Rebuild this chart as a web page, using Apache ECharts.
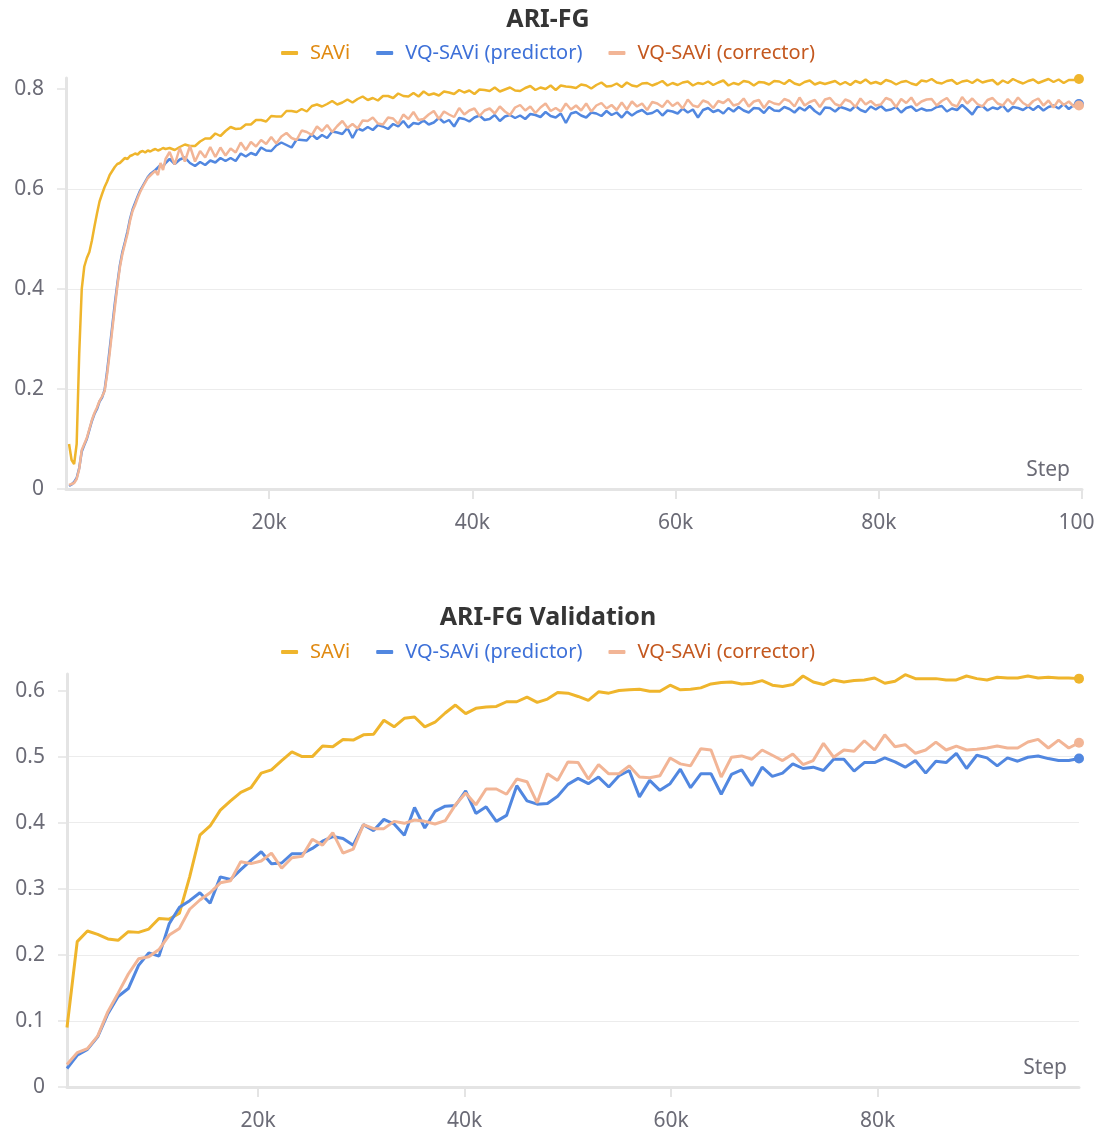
<!DOCTYPE html>
<html>
<head>
<meta charset="utf-8">
<title>ARI-FG</title>
<script src="https://cdn.jsdelivr.net/npm/echarts@6/dist/echarts.min.js"></script>
<style>
  html, body { margin: 0; padding: 0; background: #fff; }
  #chart { width: 1096px; height: 1135px; }
</style>
</head>
<body>
<div id="chart"></div>
<script>
// series names + colours
const seriesNames = ['SAVi', 'VQ-SAVi (predictor)', 'VQ-SAVi (corrector)']
const lineColors = ['#efb52c', '#5187e0', '#f2b596']
const textColors = ['#e08a12', '#3d70d8', '#c4581f']

// tick values
const trainXTicks = [20000, 40000, 60000, 80000, 100000]
const trainYTicks = [0, 0.2, 0.4, 0.6, 0.8]
const valXTicks = [20000, 40000, 60000, 80000]
const valYTicks = [0, 0.1, 0.2, 0.3, 0.4, 0.5, 0.6]

// ---- training curve (ARI-FG) ----
// logged every 250 steps from 300 up to ~10k, then every 500 steps from 10.2k
const trainEarlyStart = 300
const trainEarlyEvery = 250
const trainLateStart = 10200
const trainLateEvery = 500

const saviTrainEarly = [
  0.090, 0.058, 0.050, 0.090, 0.270, 0.400, 0.445, 0.462, 0.474, 0.497,
  0.525, 0.551, 0.575, 0.590, 0.604, 0.615, 0.628, 0.636, 0.644, 0.650,
  0.652, 0.657, 0.662, 0.660, 0.666, 0.668, 0.671, 0.669, 0.674, 0.676,
  0.673, 0.677, 0.675, 0.678, 0.680, 0.677, 0.679, 0.682, 0.680
]
const saviTrainLate = [
  0.682, 0.678, 0.684, 0.689, 0.686, 0.686, 0.695, 0.701, 0.701, 0.711,
  0.706, 0.716, 0.724, 0.720, 0.721, 0.729, 0.729, 0.738, 0.738, 0.735,
  0.746, 0.745, 0.745, 0.756, 0.756, 0.754, 0.760, 0.755, 0.766, 0.769,
  0.765, 0.770, 0.776, 0.769, 0.773, 0.779, 0.773, 0.780, 0.785, 0.778,
  0.782, 0.777, 0.786, 0.786, 0.782, 0.791, 0.786, 0.785, 0.792, 0.785,
  0.795, 0.788, 0.791, 0.787, 0.795, 0.793, 0.790, 0.798, 0.793, 0.797,
  0.790, 0.799, 0.798, 0.796, 0.803, 0.795, 0.799, 0.803, 0.797, 0.796,
  0.802, 0.806, 0.798, 0.803, 0.800, 0.807, 0.798, 0.807, 0.805, 0.804,
  0.802, 0.809, 0.807, 0.801, 0.808, 0.813, 0.805, 0.806, 0.811, 0.804,
  0.813, 0.807, 0.805, 0.811, 0.812, 0.807, 0.811, 0.816, 0.807, 0.812,
  0.808, 0.813, 0.815, 0.807, 0.812, 0.810, 0.815, 0.808, 0.813, 0.817,
  0.807, 0.812, 0.809, 0.816, 0.814, 0.807, 0.814, 0.813, 0.809, 0.816,
  0.815, 0.810, 0.818, 0.811, 0.808, 0.814, 0.817, 0.809, 0.813, 0.810,
  0.813, 0.816, 0.809, 0.814, 0.808, 0.816, 0.812, 0.819, 0.811, 0.814,
  0.810, 0.818, 0.815, 0.809, 0.814, 0.816, 0.811, 0.808, 0.817, 0.815,
  0.820, 0.813, 0.811, 0.816, 0.818, 0.810, 0.815, 0.817, 0.812, 0.819,
  0.813, 0.816, 0.818, 0.809, 0.817, 0.812, 0.820, 0.815, 0.811, 0.816,
  0.819, 0.812, 0.816, 0.820, 0.814, 0.819, 0.812, 0.818, 0.818, 0.820
]

const predTrainEarly = [
  0.006, 0.009, 0.014, 0.022, 0.042, 0.075, 0.088, 0.100, 0.118, 0.136,
  0.150, 0.160, 0.175, 0.183, 0.198, 0.236, 0.280, 0.325, 0.370, 0.410,
  0.447, 0.474, 0.494, 0.515, 0.540, 0.559, 0.572, 0.585, 0.597, 0.606,
  0.615, 0.624, 0.630, 0.634, 0.638, 0.643, 0.648, 0.645, 0.652
]
const predTrainLate = [
  0.660, 0.650, 0.659, 0.663, 0.652, 0.646, 0.654, 0.648, 0.657, 0.653,
  0.662, 0.656, 0.662, 0.656, 0.671, 0.665, 0.672, 0.668, 0.683, 0.677,
  0.676, 0.687, 0.693, 0.688, 0.683, 0.699, 0.698, 0.697, 0.709, 0.700,
  0.708, 0.702, 0.715, 0.713, 0.710, 0.722, 0.702, 0.721, 0.717, 0.724,
  0.718, 0.728, 0.725, 0.720, 0.730, 0.725, 0.736, 0.723, 0.732, 0.730,
  0.737, 0.729, 0.733, 0.742, 0.733, 0.738, 0.725, 0.742, 0.740, 0.735,
  0.743, 0.747, 0.738, 0.740, 0.748, 0.736, 0.745, 0.748, 0.742, 0.747,
  0.740, 0.750, 0.748, 0.744, 0.754, 0.746, 0.743, 0.751, 0.732, 0.751,
  0.754, 0.747, 0.743, 0.753, 0.751, 0.746, 0.756, 0.748, 0.753, 0.743,
  0.755, 0.747, 0.754, 0.758, 0.750, 0.752, 0.758, 0.747, 0.757, 0.755,
  0.751, 0.761, 0.753, 0.759, 0.743, 0.758, 0.762, 0.754, 0.758, 0.751,
  0.762, 0.755, 0.764, 0.757, 0.753, 0.762, 0.761, 0.752, 0.764, 0.757,
  0.756, 0.764, 0.760, 0.753, 0.763, 0.757, 0.766, 0.756, 0.749, 0.763,
  0.762, 0.755, 0.764, 0.761, 0.757, 0.766, 0.758, 0.754, 0.765, 0.759,
  0.766, 0.757, 0.759, 0.764, 0.753, 0.762, 0.765, 0.756, 0.761, 0.757,
  0.758, 0.764, 0.766, 0.755, 0.761, 0.758, 0.768, 0.759, 0.749, 0.764,
  0.766, 0.757, 0.763, 0.760, 0.767, 0.755, 0.764, 0.762, 0.758, 0.765,
  0.758, 0.766, 0.757, 0.764, 0.767, 0.761, 0.770, 0.760, 0.768, 0.770
]

const corrTrainEarly = [
  0.008, 0.010, 0.012, 0.020, 0.040, 0.078, 0.090, 0.102, 0.120, 0.138,
  0.152, 0.163, 0.176, 0.185, 0.196, 0.230, 0.272, 0.318, 0.362, 0.405,
  0.443, 0.470, 0.490, 0.510, 0.536, 0.556, 0.568, 0.582, 0.594, 0.604,
  0.613, 0.622, 0.627, 0.632, 0.636, 0.628, 0.652, 0.638, 0.660
]
const corrTrainLate = [
  0.674, 0.649, 0.682, 0.655, 0.686, 0.655, 0.676, 0.663, 0.684, 0.664,
  0.683, 0.667, 0.681, 0.673, 0.693, 0.678, 0.694, 0.685, 0.698, 0.690,
  0.704, 0.691, 0.705, 0.712, 0.702, 0.698, 0.717, 0.714, 0.708, 0.725,
  0.716, 0.728, 0.714, 0.726, 0.736, 0.722, 0.730, 0.721, 0.737, 0.736,
  0.743, 0.731, 0.729, 0.743, 0.741, 0.730, 0.749, 0.740, 0.754, 0.738,
  0.740, 0.749, 0.756, 0.740, 0.755, 0.749, 0.744, 0.762, 0.749, 0.757,
  0.761, 0.746, 0.757, 0.761, 0.751, 0.765, 0.755, 0.748, 0.763, 0.768,
  0.757, 0.765, 0.752, 0.763, 0.771, 0.756, 0.762, 0.755, 0.771, 0.759,
  0.767, 0.757, 0.771, 0.755, 0.767, 0.772, 0.761, 0.768, 0.758, 0.773,
  0.759, 0.775, 0.765, 0.771, 0.758, 0.774, 0.771, 0.764, 0.777, 0.766,
  0.773, 0.761, 0.779, 0.767, 0.764, 0.777, 0.773, 0.762, 0.776, 0.772,
  0.780, 0.767, 0.770, 0.781, 0.765, 0.775, 0.778, 0.762, 0.776, 0.771,
  0.769, 0.780, 0.776, 0.765, 0.783, 0.767, 0.774, 0.778, 0.764, 0.779,
  0.782, 0.770, 0.766, 0.779, 0.775, 0.764, 0.781, 0.769, 0.776, 0.767,
  0.769, 0.782, 0.778, 0.764, 0.780, 0.772, 0.783, 0.767, 0.775, 0.779,
  0.780, 0.767, 0.776, 0.782, 0.769, 0.765, 0.784, 0.771, 0.781, 0.770,
  0.765, 0.778, 0.782, 0.771, 0.767, 0.780, 0.769, 0.783, 0.772, 0.766,
  0.776, 0.781, 0.767, 0.777, 0.763, 0.778, 0.768, 0.775, 0.765, 0.767
]

// ---- validation curve (ARI-FG Validation) ----
// one eval roughly every 990 steps, first at 1.5k
const valStart = 1500
const valEvery = 990

const saviVal = [
  0.090, 0.220, 0.236, 0.231, 0.224, 0.222, 0.235, 0.234, 0.239, 0.255,
  0.254, 0.263, 0.318, 0.381, 0.395, 0.419, 0.433, 0.446, 0.453, 0.475,
  0.480, 0.494, 0.507, 0.500, 0.500, 0.516, 0.515, 0.526, 0.525, 0.533,
  0.534, 0.555, 0.545, 0.558, 0.560, 0.545, 0.552, 0.566, 0.578, 0.565,
  0.573, 0.575, 0.576, 0.583, 0.583, 0.590, 0.582, 0.587, 0.597, 0.596,
  0.591, 0.585, 0.598, 0.596, 0.600, 0.601, 0.602, 0.599, 0.599, 0.608,
  0.601, 0.602, 0.604, 0.610, 0.612, 0.613, 0.610, 0.611, 0.615, 0.608,
  0.606, 0.609, 0.622, 0.613, 0.609, 0.616, 0.613, 0.615, 0.616, 0.619,
  0.611, 0.614, 0.624, 0.618, 0.618, 0.618, 0.616, 0.616, 0.622, 0.618,
  0.616, 0.620, 0.619, 0.619, 0.622, 0.619, 0.620, 0.619, 0.619, 0.618
]
const predVal = [
  0.028, 0.048, 0.057, 0.076, 0.111, 0.137, 0.149, 0.184, 0.203, 0.198,
  0.247, 0.272, 0.282, 0.294, 0.278, 0.318, 0.314, 0.329, 0.343, 0.356,
  0.338, 0.339, 0.353, 0.353, 0.361, 0.372, 0.379, 0.376, 0.366, 0.397,
  0.388, 0.405, 0.398, 0.381, 0.423, 0.392, 0.417, 0.425, 0.426, 0.448,
  0.414, 0.424, 0.402, 0.411, 0.456, 0.433, 0.428, 0.429, 0.440, 0.458,
  0.467, 0.459, 0.469, 0.454, 0.471, 0.479, 0.439, 0.464, 0.449, 0.459,
  0.481, 0.453, 0.474, 0.474, 0.443, 0.473, 0.480, 0.456, 0.484, 0.470,
  0.475, 0.489, 0.482, 0.484, 0.479, 0.496, 0.496, 0.478, 0.491, 0.491,
  0.498, 0.492, 0.484, 0.494, 0.475, 0.493, 0.491, 0.505, 0.482, 0.502,
  0.498, 0.486, 0.498, 0.493, 0.499, 0.501, 0.497, 0.494, 0.494, 0.497
]
const corrVal = [
  0.034, 0.052, 0.058, 0.077, 0.114, 0.142, 0.171, 0.194, 0.197, 0.208,
  0.230, 0.240, 0.269, 0.283, 0.294, 0.309, 0.312, 0.341, 0.338, 0.342,
  0.354, 0.331, 0.347, 0.349, 0.375, 0.366, 0.385, 0.354, 0.360, 0.397,
  0.391, 0.391, 0.402, 0.399, 0.404, 0.402, 0.398, 0.403, 0.427, 0.445,
  0.427, 0.451, 0.451, 0.443, 0.466, 0.462, 0.430, 0.474, 0.464, 0.492,
  0.491, 0.466, 0.488, 0.474, 0.474, 0.486, 0.469, 0.468, 0.471, 0.498,
  0.489, 0.486, 0.512, 0.510, 0.469, 0.499, 0.501, 0.496, 0.510, 0.502,
  0.494, 0.504, 0.488, 0.494, 0.520, 0.499, 0.510, 0.508, 0.524, 0.510,
  0.533, 0.515, 0.518, 0.505, 0.510, 0.522, 0.510, 0.516, 0.510, 0.511,
  0.513, 0.516, 0.513, 0.513, 0.522, 0.526, 0.513, 0.525, 0.513, 0.521
]

function trainPairs(early, late) {
  const a = early.map((v, i) => [trainEarlyStart + trainEarlyEvery * i, v])
  const b = late.map((v, i) => [trainLateStart + trainLateEvery * i, v])
  return a.concat(b)
}
function valPairs(vals) {
  return vals.map((v, i) => [valStart + valEvery * i, v])
}

const font = 'Noto Sans'
const labelGray = '#6b6b76'
const axisGray = '#e4e4e4'

function makeLine(idx, data, gridIdx, width) {
  const last = data.length - 1
  return {
    name: seriesNames[idx],
    type: 'line',
    xAxisIndex: gridIdx,
    yAxisIndex: gridIdx,
    data: data,
    symbol: 'circle',
    symbolSize: (val, p) => (p.dataIndex === last ? 10 : 0),
    showSymbol: true,
    animation: false,
    color: lineColors[idx],
    itemStyle: { color: lineColors[idx] },
    lineStyle: { color: lineColors[idx], width: width },
    emphasis: { disabled: true }
  }
}

function makeXAxis(gridIdx, min, max, ticks) {
  return {
    type: 'value',
    gridIndex: gridIdx,
    min: min,
    max: max,
    name: 'Step',
    nameLocation: 'end',
    nameGap: -12,
    nameTextStyle: {
      fontFamily: font,
      fontSize: 21,
      color: labelGray,
      align: 'right',
      verticalAlign: 'bottom',
      padding: [0, 0, 8, 0]
    },
    axisLine: { show: true, lineStyle: { color: axisGray, width: 3 } },
    axisTick: { show: true, length: 10, customValues: ticks, lineStyle: { color: axisGray, width: 2 } },
    axisLabel: {
      customValues: ticks,
      margin: 24,
      fontFamily: font,
      fontSize: 21,
      color: labelGray,
      formatter: v => (v / 1000) + 'k'
    },
    splitLine: { show: false }
  }
}

function makeYAxis(gridIdx, max, ticks) {
  return {
    type: 'value',
    gridIndex: gridIdx,
    min: 0,
    max: max,
    axisLine: { show: true, lineStyle: { color: axisGray, width: 3 } },
    axisTick: { show: true, length: 9, customValues: ticks, lineStyle: { color: axisGray, width: 1.5 } },
    axisLabel: {
      customValues: ticks,
      margin: 22,
      fontFamily: font,
      fontSize: 21,
      color: labelGray,
      formatter: v => (v === 0 ? '0' : String(v))
    },
    splitLine: { show: true, showMaxLine: false, lineStyle: { color: '#ececec', width: 1 } }
  }
}

function makeLegend(top) {
  return {
    top: top,
    left: 'center',
    icon: 'roundRect',
    itemWidth: 17,
    itemHeight: 4,
    itemGap: 26,
    textStyle: { fontFamily: font, fontSize: 20, padding: [0, 0, 0, 7] },
    data: seriesNames.map((n, i) => ({ name: n, textStyle: { color: textColors[i] } })),
    selectedMode: false
  }
}

const chart = echarts.init(document.getElementById('chart'))
chart.setOption({
  backgroundColor: '#ffffff',
  textStyle: { fontFamily: font },
  title: [
    { text: 'ARI-FG', left: 'center', top: 2, textStyle: { fontFamily: font, fontSize: 25, fontWeight: 'bold', color: '#353535' } },
    { text: 'ARI-FG Validation', left: 'center', top: 600, textStyle: { fontFamily: font, fontSize: 25, fontWeight: 'bold', color: '#353535' } }
  ],
  legend: [makeLegend(38), makeLegend(637)],
  grid: [
    { left: 66, right: 14, top: 78, height: 411, outerBoundsMode: 'none' },
    { left: 67, right: 17, top: 674, height: 413, outerBoundsMode: 'none' }
  ],
  xAxis: [
    makeXAxis(0, 0, 100000, trainXTicks),
    makeXAxis(1, 1500, 99510, valXTicks)
  ],
  yAxis: [
    makeYAxis(0, 0.822, trainYTicks),
    makeYAxis(1, 0.625, valYTicks)
  ],
  series: [
    makeLine(0, trainPairs(saviTrainEarly, saviTrainLate), 0, 2.5),
    makeLine(1, trainPairs(predTrainEarly, predTrainLate), 0, 2.5),
    makeLine(2, trainPairs(corrTrainEarly, corrTrainLate), 0, 2.5),
    makeLine(0, valPairs(saviVal), 1, 3),
    makeLine(1, valPairs(predVal), 1, 3),
    makeLine(2, valPairs(corrVal), 1, 3)
  ]
})
</script>
</body>
</html>
